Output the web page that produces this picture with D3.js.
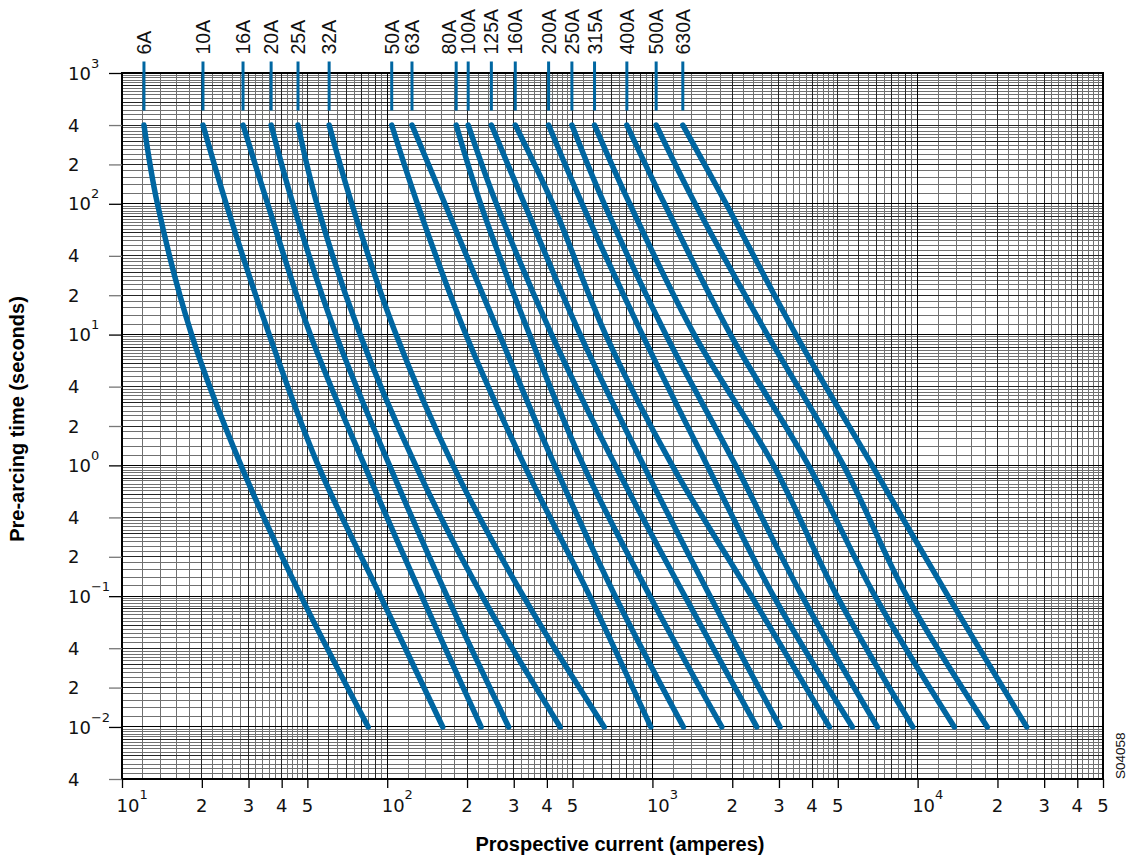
<!DOCTYPE html>
<html>
<head>
<meta charset="utf-8">
<script src="https://cdn.jsdelivr.net/npm/d3@7"></script>
<style>
  body { margin: 0; background: #fff; }
  svg { display: block; }
</style>
</head>
<body>
<div id="chart"></div>
<script>
const times = [400, 100, 10, 1, 0.1, 0.01];

const fuseRatings = ["6A", "10A", "16A", "20A", "25A", "32A", "50A", "63A", "80A",
    "100A", "125A", "160A", "200A", "250A", "315A", "400A", "500A", "630A"];

// prospective current (A) for each rating, one value per entry of times
const currents = [
    [12.1, 13.6, 18.3, 28.1, 47.3, 84.8],
    [20.2, 24.7, 35.9, 54.9, 94.3, 162],
    [28.6, 35.4, 51.3, 82.1, 135, 226],
    [36.5, 44.1, 64.1, 102, 168, 287],
    [46.1, 54.3, 79.0, 128, 228, 449],
    [60.4, 73.5, 108, 177, 326, 658],
    [104, 130, 198, 329, 580, 986],
    [124, 165, 265, 428, 724, 1309],
    [182, 225, 344, 549, 979, 1826],
    [202, 258, 417, 724, 1325, 2474],
    [247, 329, 534, 926, 1650, 3029],
    [304, 421, 666, 1187, 2362, 4648],
    [406, 543, 916, 1608, 2863, 5674],
    [497, 658, 1123, 2059, 3667, 7048],
    [605, 821, 1438, 2863, 4969, 9585],
    [801, 1110, 1970, 3876, 6909, 13752],
    [1033, 1449, 2711, 5253, 9106, 18309],
    [1302, 1896, 3474, 6731, 13022, 25775]
];

const xTicks = [10, 20, 30, 40, 50, 100, 200, 300, 400, 500, 1000, 2000, 3000, 4000, 5000,
    10000, 20000, 30000, 40000, 50000];
const yTicks = [1000, 400, 200, 100, 40, 20, 10, 4, 2, 1, 0.4, 0.2, 0.1, 0.04, 0.02, 0.01, 0.004];

const margin = {top: 73, right: 25, bottom: 81, left: 122},
    width = 1128 - margin.left - margin.right,
    height = 860 - margin.top - margin.bottom;

const svg = d3.select("#chart").append("svg")
    .attr("width", width + margin.left + margin.right)
    .attr("height", height + margin.top + margin.bottom)
  .append("g")
    .attr("transform", "translate(" + margin.left + "," + margin.top + ")");

const x = d3.scaleLog().domain([10, 50000]).range([0, width]);
const y = d3.scaleLog().domain([0.004, 1000]).range([height, 0]);

const blue = "#0066a1";
const numFont = "'DejaVu Sans', sans-serif";
const textFont = "'Liberation Sans', Arial, sans-serif";

// log paper grid: mantissas per decade
const xMant = d3.range(10, 50, 2).concat(d3.range(50, 100, 5)).map(d => d / 10);
const yMant = d3.range(10, 20, 2).concat(d3.range(20, 40, 2), d3.range(40, 100, 4)).map(d => d / 10);

function gridValues(mant, lo, hi) {
    const out = [];
    for (let e = Math.floor(Math.log10(lo)); e <= Math.ceil(Math.log10(hi)); e++) {
        mant.forEach(m => {
            const v = +(m * Math.pow(10, e)).toPrecision(6);
            if (v >= lo * 0.9999 && v <= hi * 1.0001) {
                out.push({v: v, kind: m === 1 ? 2 : (Number.isInteger(m) ? 1 : 0)});
            }
        });
    }
    return out;
}

const gridColor = ["#707070", "#262626", "#000"];
const xGrid = gridValues(xMant, 10, 50000);
const yGrid = gridValues(yMant, 0.004, 1000);

const grid = svg.append("g").attr("shape-rendering", "crispEdges");
[0, 1, 2].forEach(k => {
    grid.selectAll("line.h" + k).data(yGrid.filter(d => d.kind === k))
        .enter().append("line")
        .attr("x1", 0).attr("x2", width)
        .attr("y1", d => y(d.v)).attr("y2", d => y(d.v))
        .attr("stroke", gridColor[k]).attr("stroke-width", 1);
    grid.selectAll("line.v" + k).data(xGrid.filter(d => d.kind === k))
        .enter().append("line")
        .attr("y1", 0).attr("y2", height)
        .attr("x1", d => x(d.v)).attr("x2", d => x(d.v))
        .attr("stroke", gridColor[k]).attr("stroke-width", 1);
});

grid.append("rect")
    .attr("width", width).attr("height", height)
    .attr("fill", "none").attr("stroke", "#000").attr("stroke-width", 1.5);

const isDecade = d => Math.abs(Math.log10(d) - Math.round(Math.log10(d))) < 1e-9;
const mantissa = d => Math.round(d / Math.pow(10, Math.floor(Math.log10(d) + 1e-9)));
const supText = d => { const e = Math.round(Math.log10(d)); return e < 0 ? "\u2212" + (-e) : String(e); };

// y axis
const yAxis = svg.append("g")
    .call(d3.axisLeft(y).tickValues(yTicks).tickSize(13).tickFormat(""));
yAxis.select(".domain").remove();
yAxis.selectAll(".tick line")
    .attr("stroke", d => isDecade(d) ? "#000" : "#777")
    .attr("stroke-width", 1.3);

svg.selectAll("text.ylab").data(yTicks)
    .enter().append("text")
    .attr("class", "ylab")
    .attr("x", -54)
    .attr("y", d => y(d))
    .attr("dy", "0.37em")
    .style("font-family", numFont)
    .style("font-size", "18px")
    .attr("fill", "#111")
    .each(function(d) {
        const t = d3.select(this);
        if (isDecade(d)) {
            t.append("tspan").text("10");
            t.append("tspan").attr("dy", -12).style("font-size", "13px").text(supText(d));
        } else {
            t.text(mantissa(d));
        }
    });

// x axis
const xAxis = svg.append("g")
    .attr("transform", "translate(0," + height + ")")
    .call(d3.axisBottom(x).tickValues(xTicks).tickSize(9).tickFormat(""));
xAxis.select(".domain").remove();
xAxis.selectAll(".tick line").attr("stroke", "#000").attr("stroke-width", 1.3);

svg.selectAll("text.xlab").data(xTicks)
    .enter().append("text")
    .attr("class", "xlab")
    .attr("y", height + 33)
    .style("font-family", numFont)
    .style("font-size", "18px")
    .attr("fill", "#111")
    .each(function(d) {
        const t = d3.select(this);
        if (isDecade(d)) {
            t.attr("x", x(d) - 5.5).attr("text-anchor", "start");
            t.append("tspan").text("10");
            t.append("tspan").attr("dy", -13).style("font-size", "13px").text(supText(d));
        } else {
            t.attr("x", x(d)).attr("text-anchor", "middle").text(mantissa(d));
        }
    });

// melting curves
const line = d3.line()
    .x(d => x(d[0]))
    .y(d => y(d[1]))
    .curve(d3.curveCatmullRom.alpha(0.5));

svg.selectAll("path.curve").data(currents)
    .enter().append("path")
    .attr("class", "curve")
    .attr("d", row => line(row.map((c, i) => [c, times[i]])))
    .attr("fill", "none")
    .attr("stroke", blue)
    .attr("stroke-width", 5.5)
    .attr("stroke-linecap", "round");

// rating markers above the curves
svg.selectAll("line.marker").data(currents)
    .enter().append("line")
    .attr("class", "marker")
    .attr("x1", row => x(row[0])).attr("x2", row => x(row[0]))
    .attr("y1", -11.5).attr("y2", 37.5)
    .attr("stroke", blue)
    .attr("stroke-width", 3);

// 80A label sits a little left so it clears the 100A one
const nudge = name => name === "80A" ? -7 : 0;

svg.selectAll("text.rating").data(currents)
    .enter().append("text")
    .attr("class", "rating")
    .attr("transform", (row, i) => "translate(" + (x(row[0]) + 7 + nudge(fuseRatings[i])) + ",-18.5) rotate(-90)")
    .style("font-family", textFont)
    .style("font-size", "19.5px")
    .attr("fill", "#111")
    .text((row, i) => fuseRatings[i]);

// axis titles
svg.append("text")
    .attr("transform", "translate(" + (24 - margin.left) + "," + (419 - margin.top) + ") rotate(-90)")
    .attr("text-anchor", "middle")
    .style("font-family", textFont)
    .style("font-size", "20px")
    .style("font-weight", "bold")
    .text("Pre-arcing time (seconds)");

svg.append("text")
    .attr("x", 620 - margin.left)
    .attr("y", 851 - margin.top)
    .attr("text-anchor", "middle")
    .style("font-family", textFont)
    .style("font-size", "20px")
    .style("font-weight", "bold")
    .text("Prospective current (amperes)");

svg.append("text")
    .attr("transform", "translate(" + (1125 - margin.left) + "," + height + ") rotate(-90)")
    .style("font-family", textFont)
    .style("font-size", "13.5px")
    .attr("fill", "#111")
    .text("S04058");
</script>
</body>
</html>
